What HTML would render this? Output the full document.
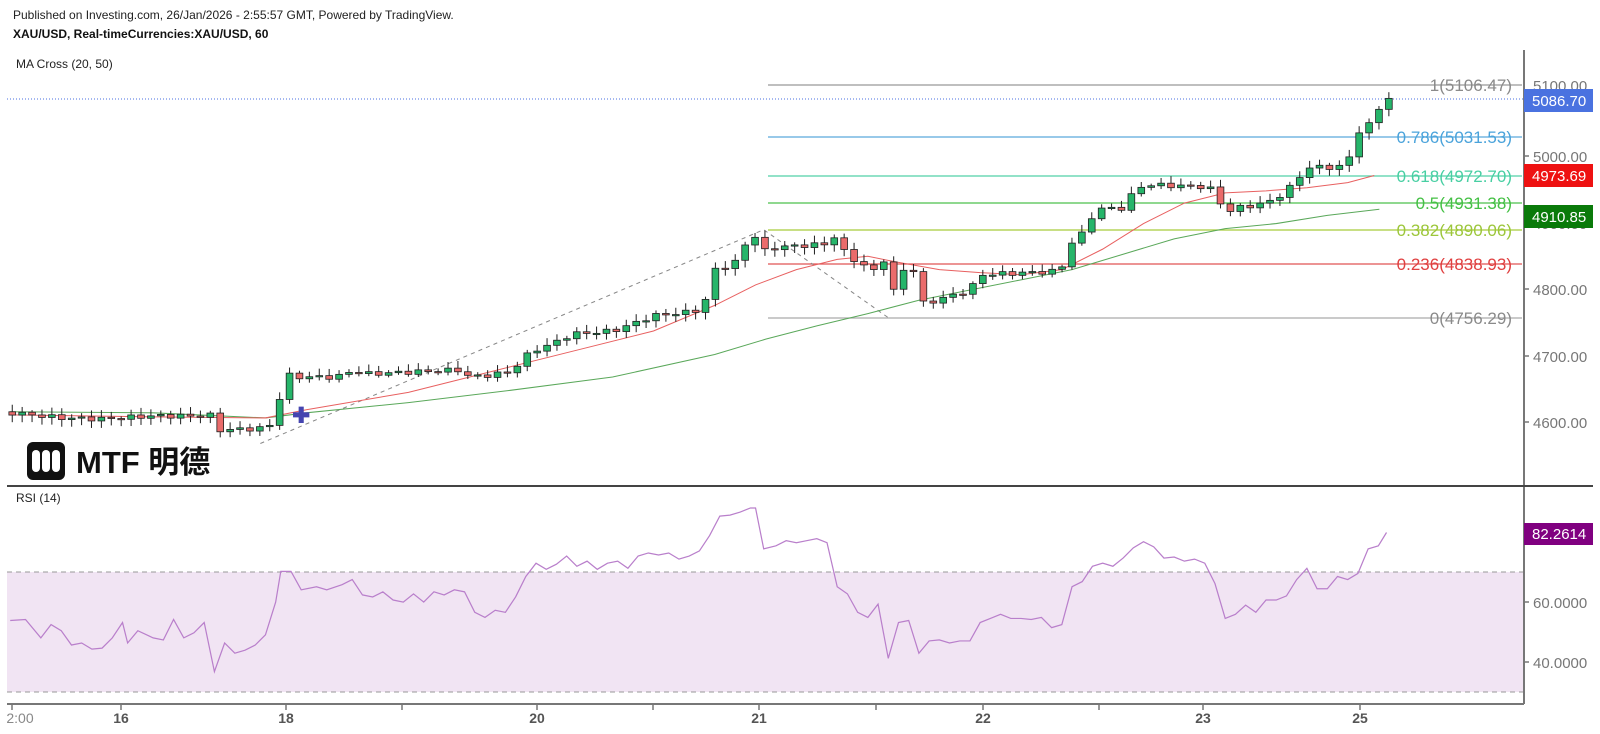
<!DOCTYPE html>
<html><head><meta charset="utf-8">
<style>
html,body{margin:0;padding:0;background:#fff;}
body{width:1600px;height:734px;overflow:hidden;position:relative;font-family:"Liberation Sans","Noto Sans CJK SC",sans-serif;}
.t{position:absolute;white-space:nowrap;}
</style></head><body>
<svg id="s" width="1600" height="734" viewBox="0 0 1600 734" xmlns="http://www.w3.org/2000/svg" style="position:absolute;left:0;top:0">
<rect width="1600" height="734" fill="#fff"/>
<rect x="7" y="572" width="1517" height="120" fill="#f1e4f3"/>
<line x1="7" y1="572" x2="1524" y2="572" stroke="#999" stroke-dasharray="5,4"/>
<line x1="7" y1="692" x2="1524" y2="692" stroke="#999" stroke-dasharray="5,4"/>
<g stroke-width="1.3">
<line x1="768" y1="85" x2="1522" y2="85" stroke="#999"/>
<line x1="768" y1="137" x2="1522" y2="137" stroke="#5aa9dc"/>
<line x1="768" y1="176" x2="1522" y2="176" stroke="#52d1a8"/>
<line x1="768" y1="203" x2="1522" y2="203" stroke="#4cc04c"/>
<line x1="768" y1="230" x2="1522" y2="230" stroke="#a8cc3a"/>
<line x1="768" y1="264" x2="1522" y2="264" stroke="#e05555"/>
<line x1="768" y1="318" x2="1522" y2="318" stroke="#aaa"/>
</g>
<line x1="7" y1="99" x2="1524" y2="99" stroke="#4a6fe0" stroke-dasharray="1,2"/>
<g font-family="Liberation Sans, sans-serif" font-size="17" text-anchor="end">
<text x="1512" y="91" fill="#8a8a8a">1(5106.47)</text>
<text x="1512" y="143" fill="#4aa3db">0.786(5031.53)</text>
<text x="1512" y="182" fill="#48cfa3">0.618(4972.70)</text>
<text x="1512" y="209" fill="#44c044">0.5(4931.38)</text>
<text x="1512" y="236" fill="#9cc63a">0.382(4890.06)</text>
<text x="1512" y="270" fill="#e04040">0.236(4838.93)</text>
<text x="1512" y="324" fill="#8a8a8a">0(4756.29)</text>
</g>
<g id="plot" transform="matrix(1.021,0,0,1.023,0,-1.5)"></g>
<line x1="1524" y1="50" x2="1524" y2="704" stroke="#777" stroke-width="2"/>
<line x1="7" y1="486" x2="1593" y2="486" stroke="#444" stroke-width="2"/>
<line x1="7" y1="704" x2="1524" y2="704" stroke="#777" stroke-width="2"/>
<g stroke="#777" stroke-width="1.5">
<line x1="1524" y1="156" x2="1529" y2="156"/><line x1="1524" y1="289" x2="1529" y2="289"/>
<line x1="1524" y1="356" x2="1529" y2="356"/><line x1="1524" y1="422" x2="1529" y2="422"/>
<line x1="1524" y1="602" x2="1529" y2="602"/><line x1="1524" y1="662" x2="1529" y2="662"/>
<line x1="12" y1="704" x2="12" y2="710"/><line x1="121" y1="704" x2="121" y2="710"/>
<line x1="286" y1="704" x2="286" y2="710"/><line x1="402" y1="704" x2="402" y2="710"/>
<line x1="537" y1="704" x2="537" y2="710"/><line x1="653" y1="704" x2="653" y2="710"/>
<line x1="759" y1="704" x2="759" y2="710"/><line x1="876" y1="704" x2="876" y2="710"/>
<line x1="983" y1="704" x2="983" y2="710"/><line x1="1099" y1="704" x2="1099" y2="710"/>
<line x1="1203" y1="704" x2="1203" y2="710"/><line x1="1360" y1="704" x2="1360" y2="710"/>
</g>
<g font-family="Liberation Sans, sans-serif" font-size="15" fill="#777">
<text x="1533" y="91">5100.00</text>
<text x="1533" y="162">5000.00</text>
<text x="1533" y="229">4900.00</text>
<text x="1533" y="295">4800.00</text>
<text x="1533" y="362">4700.00</text>
<text x="1533" y="428">4600.00</text>
<text x="1533" y="539">80.0000</text>
<text x="1533" y="608">60.0000</text>
<text x="1533" y="668">40.0000</text>
</g>
<rect x="1524" y="89" width="69" height="23" fill="#4a72e0"/>
<text x="1532" y="106" font-family="Liberation Sans, sans-serif" font-size="15" fill="#fff">5086.70</text>
<rect x="1524" y="164" width="69" height="23" fill="#ee1111"/>
<text x="1532" y="181" font-family="Liberation Sans, sans-serif" font-size="15" fill="#fff">4973.69</text>
<rect x="1524" y="205" width="69" height="23" fill="#0a7a0a"/>
<text x="1532" y="222" font-family="Liberation Sans, sans-serif" font-size="15" fill="#fff">4910.85</text>
<rect x="1524" y="523" width="69" height="22" fill="#800080"/>
<text x="1532" y="539" font-family="Liberation Sans, sans-serif" font-size="15" fill="#fff">82.2614</text>
<g font-family="Liberation Sans, sans-serif" font-size="14" font-weight="bold" fill="#555" text-anchor="middle">
<text x="20" y="723" fill="#888" font-weight="normal">2:00</text>
<text x="121" y="723">16</text><text x="286" y="723">18</text><text x="537" y="723">20</text>
<text x="759" y="723">21</text><text x="983" y="723">22</text><text x="1203" y="723">23</text>
<text x="1360" y="723">25</text>
</g>
<rect x="27" y="442" width="38" height="38" rx="6" fill="#111"/>
<rect x="32" y="450" width="8" height="22" rx="4" fill="#fff"/>
<rect x="42" y="450" width="8" height="22" rx="4" fill="#fff"/>
<rect x="52" y="450" width="8" height="22" rx="4" fill="#fff"/>
<text x="76" y="473" font-family="Liberation Sans, 'Noto Sans CJK SC', sans-serif" font-size="31" font-weight="bold" fill="#111">MTF 明德</text>
</svg>
<div class="t" style="left:13px;top:8px;font-size:12px;color:#222">Published on Investing.com, 26/Jan/2026 - 2:55:57 GMT, Powered by TradingView.</div>
<div class="t" style="left:13px;top:27px;font-size:12px;font-weight:bold;color:#111">XAU/USD, Real-timeCurrencies:XAU/USD, 60</div>
<div class="t" style="left:16px;top:57px;font-size:12px;color:#222">MA Cross (20, 50)</div>
<div class="t" style="left:16px;top:491px;font-size:12px;color:#222">RSI (14)</div>
<script>
(function(){
var NS="http://www.w3.org/2000/svg",g=document.getElementById("plot");
function el(t,a){var e=document.createElementNS(NS,t);for(var k in a)e.setAttribute(k,a[k]);g.appendChild(e);return e;}
function pts(a){return a.map(function(p){return p[0]+","+p[1]}).join(" ");}
var rsi=[[10,608],[25,607],[40,625],[50,612],[60,618],[70,632],[80,630],[90,636],[100,635],[110,625],[120,610],[125,630],[135,618],[150,625],[160,627],[170,607],[180,625],[190,620],[200,610],[210,658],[220,630],[230,640],[240,637],[250,632],[260,622],[270,590],[275,560],[285,560],[295,578],[310,575],[320,578],[335,573],[345,568],[355,583],[365,585],[375,580],[385,588],[395,590],[405,582],[415,590],[425,580],[435,583],[445,578],[455,580],[465,600],[475,605],[485,598],[495,600],[505,585],[515,565],[525,552],[535,558],[545,553],[555,545],[565,555],[575,550],[585,558],[595,552],[605,550],[615,557],[625,545],[635,542],[645,544],[655,542],[665,548],[675,545],[685,540],[695,525],[705,506],[715,505],[725,502],[735,498],[740,498],[748,538],[760,535],[770,530],[780,532],[790,530],[800,528],[810,532],[820,575],[830,582],[840,600],[850,605],[860,592],[870,645],[880,610],[890,608],[900,640],[910,628],[920,627],[930,630],[940,628],[950,628],[960,610],[970,606],[980,602],[990,606],[1000,606],[1010,607],[1020,605],[1030,615],[1040,612],[1050,575],[1060,570],[1070,555],[1080,552],[1090,555],[1100,547],[1110,537],[1120,531],[1130,536],[1140,547],[1150,546],[1160,550],[1170,548],[1180,552],[1190,572],[1200,606],[1210,602],[1220,593],[1230,600],[1240,588],[1250,588],[1260,584],[1270,568],[1280,557],[1290,577],[1300,577],[1310,565],[1320,568],[1330,562],[1340,538],[1350,535],[1358,522]];
el("polyline",{points:pts(rsi),fill:"none",stroke:"#b97fcb","stroke-width":1.2});
el("polyline",{points:"255,435 748,226 870,312",fill:"none",stroke:"#888","stroke-dasharray":"4,4","stroke-width":1});
var red=[[10,407],[150,409],[260,410],[300,402],[400,385],[480,365],[560,345],[640,325],[700,300],[740,280],[780,265],[820,255],[850,252],[880,258],[920,265],[960,268],[1000,270],[1040,265],[1080,245],[1120,220],[1160,200],[1200,190],[1240,188],[1280,185],[1320,180],[1346,173]];
var grn=[[10,404],[150,405],[260,410],[300,405],[400,395],[500,383],[600,370],[700,348],[750,333],[800,320],[850,308],[900,295],[950,285],[1000,275],[1050,265],[1100,250],[1150,235],[1200,225],[1250,220],[1300,212],[1351,206]];
el("polyline",{points:pts(grn),fill:"none",stroke:"#5aa85a","stroke-width":1});
el("polyline",{points:pts(red),fill:"none",stroke:"#e86060","stroke-width":1});
var A=[[12,405],[60,410],[100,411],[150,408],[200,408],[205,405],[212,422],[260,420],[270,413],[278,367],[290,370],[330,370],[345,364],[360,367],[450,363],[460,370],[480,368],[500,365],[520,345],[540,338],[560,328],[600,325],[620,318],[640,310],[680,306],[690,298],[700,265],[710,262],[720,258],[730,240],[740,232],[750,248],[760,243],[810,240],[818,232],[825,246],[840,258],[860,268],[868,250],[873,298],[880,262],[890,268],[897,265],[903,298],[910,297],[950,285],[960,270],[1030,267],[1040,262],[1050,238],[1060,230],[1070,212],[1080,205],[1100,205],[1110,190],[1120,182],[1180,184],[1190,188],[1200,210],[1210,205],[1240,200],[1250,195],[1260,188],[1270,178],[1280,165],[1310,165],[1320,160],[1330,130],[1340,125],[1350,108],[1360,97]];
function cy(x){for(var i=1;i<A.length;i++){if(x<=A[i][0]){var a=A[i-1],b=A[i];return a[1]+(b[1]-a[1])*(x-a[0])/(b[0]-a[0]);}}return A[A.length-1][1];}
var prev=404,step=9.7;
for(var x=12;x<=1361;x+=step){
 var c=cy(x)+Math.sin(x*1.7)*2.2;
 var o=prev;prev=c;
 var bt=Math.min(o,c),bb=Math.max(o,c);
 var hi=bt-2-Math.abs(Math.sin(x*0.9))*5,lo=bb+2+Math.abs(Math.cos(x*1.3))*5;
 el("line",{x1:x,y1:hi,x2:x,y2:lo,stroke:"#222","stroke-width":1});
 var h=Math.max(bb-bt,1.2);
 el("rect",{x:x-3.3,y:bt,width:6.6,height:h,fill:c<o?"#26b56a":"#ea6b6b",stroke:"#222","stroke-width":0.8});
}
el("path",{d:"M287,407h16M295,399v16",stroke:"#4545b0","stroke-width":5});
})();
</script>
</body></html>
